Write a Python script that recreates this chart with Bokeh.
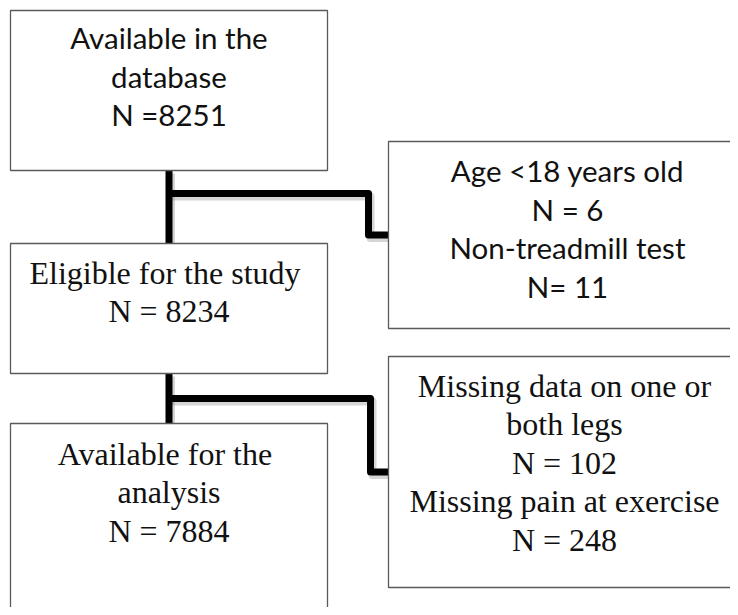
from bokeh.plotting import figure
from bokeh.models import Range1d, ColumnDataSource
from bokeh.core.properties import value
from bokeh.embed import file_html
from bokeh.resources import INLINE

# ---- content (flow chart texts and counts) ----
main_lines = [
    ["Available in the", "database", "N =8251"],
    ["Eligible  for the study", "N = 8234"],
    ["Available  for the", "analysis", "N = 7884"],
]
excl_lines = [
    ["Age <18 years old", "N = 6", "Non-treadmill test", "N= 11"],
    ["Missing data on one or", "both legs", "N = 102", "Missing pain at exercise", "N = 248"],
]
main_fonts = ["Lato", "Liberation Serif", "Liberation Serif"]
excl_fonts = ["Lato", "Liberation Serif"]

# ---- layout (pixel coordinates of the picture) ----
W, H = 730, 607
main_left, main_right = 10, 327
main_tops = [10, 243, 423]
main_bottoms = [170, 373, 640]
main_first_baseline = [37, 272, 453]
excl_left, excl_right = 388, 780
excl_tops = [141, 356]
excl_bottoms = [328, 587]
excl_first_baseline = [170, 385]
branch_y = [193, 398]
corner_x = [368, 370]
line_gap = 38.5
sizes = {"Lato": "29.5px", "Liberation Serif": "32px"}

p = figure(width=W, height=H, output_backend="svg", toolbar_location=None,
           x_range=Range1d(0, W), y_range=Range1d(H, 0),
           min_border=0, outline_line_color=None, background_fill_color="white",
           border_fill_color="white")
p.axis.visible = False
p.grid.visible = False

# connectors
trunk_x = (main_left + main_right) / 2
xs, ys = [], []
for i in range(2):
    xs.append([trunk_x, trunk_x])
    ys.append([main_bottoms[i], main_tops[i + 1]])
    mid = (excl_tops[i] + excl_bottoms[i]) / 2
    xs.append([trunk_x, corner_x[i], corner_x[i], excl_left])
    ys.append([branch_y[i], branch_y[i], mid, mid])
p.multi_line([[x + 2 for x in a] for a in xs], [[y + 3 for y in a] for a in ys],
             line_color="#888888", line_alpha=0.35, line_width=8, line_join="round")
p.multi_line(xs, ys, line_color="black", line_width=7, line_join="round")

# boxes
p.quad(left=[main_left] * 3, right=[main_right] * 3, top=main_tops, bottom=main_bottoms,
       fill_color="white", line_color="#5a5a5a", line_width=1.3)
p.quad(left=[excl_left] * 2, right=[excl_right] * 2, top=excl_tops, bottom=excl_bottoms,
       fill_color="white", line_color="#5a5a5a", line_width=1.3)

def add_text(lines, cx, y0, font):
    src = ColumnDataSource(dict(x=[cx] * len(lines),
                                y=[y0 + k * line_gap for k in range(len(lines))],
                                t=lines))
    p.text(x="x", y="y", text="t", source=src, text_align="center",
           text_baseline="alphabetic", text_font=value(font),
           text_font_size=sizes[font], text_color="#111111")

for i, lines in enumerate(main_lines):
    add_text(lines, trunk_x, main_first_baseline[i], main_fonts[i])
excl_cx = [567, 564]
for i, lines in enumerate(excl_lines):
    add_text(lines, excl_cx[i], excl_first_baseline[i], excl_fonts[i])

open("out.html", "w").write(file_html(p, INLINE))
